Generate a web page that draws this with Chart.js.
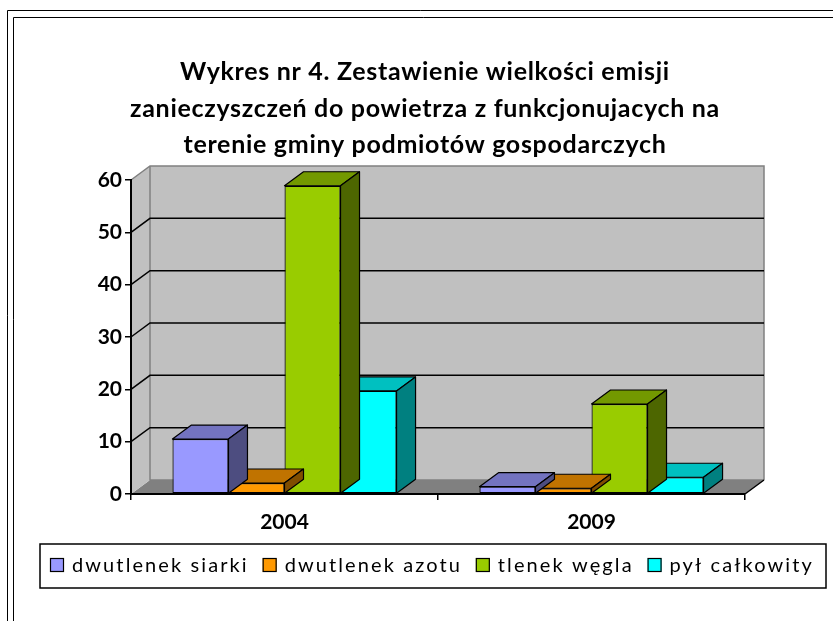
<!DOCTYPE html>
<html lang="pl">
<head>
<meta charset="UTF-8">
<script src="https://cdn.jsdelivr.net/npm/chart.js"></script>
<style>
  html, body { margin: 0; padding: 0; background: #fff; }
</style>
</head>
<body>
<canvas id="chart" width="833" height="621"></canvas>
<script>
    // values
    const categories = ['2004', '2009'];
    const seriesNames = ['dwutlenek siarki', 'dwutlenek azotu', 'tlenek węgla', 'pył całkowity'];
    const siarki = [10.5, 1.4];
    const azotu = [2.1, 1.1];
    const wegla = [58.9, 17.2];
    const pyl = [19.7, 3.2];
    const yTicks = [0, 10, 20, 30, 40, 50, 60];

    const seriesValues = [siarki, azotu, wegla, pyl];
    const frontColors = ['#9999ff', '#ff9900', '#99cc00', '#00ffff'];
    const topColors = ['#7373c0', '#c07300', '#739900', '#00c0c0'];
    const sideColors = ['#4d4d80', '#804d00', '#4d6600', '#008080'];

    const titleLines = [
        'Wykres nr 4. Zestawienie wielkości emisji',
        'zanieczyszczeń do powietrza z funkcjonujacych na',
        'terenie gminy podmiotów gospodarczych'
    ];

    // 3d offset of the back wall / bar depth
    const DX = 19, DY = -14;

    const framePlugin = {
        id: 'frame',
        beforeDraw(chart) {
            const ctx = chart.ctx;
            ctx.save();
            ctx.fillStyle = '#fff';
            ctx.fillRect(0, 0, chart.width, chart.height);
            ctx.strokeStyle = '#000';
            ctx.lineWidth = 1;
            ctx.beginPath();
            ctx.moveTo(7.5, chart.height); ctx.lineTo(7.5, 10.5); ctx.lineTo(chart.width, 10.5);
            ctx.moveTo(13.5, chart.height); ctx.lineTo(13.5, 17.5); ctx.lineTo(chart.width, 17.5);
            ctx.stroke();
            ctx.restore();
        }
    };

    const wallsPlugin = {
        id: 'walls',
        beforeDraw(chart) {
            const { ctx, chartArea: a, scales: { y } } = chart;
            const y0 = y.getPixelForValue(0);
            const yTop = y.getPixelForValue(yTicks[yTicks.length - 1]);
            ctx.save();
            // floor
            ctx.fillStyle = '#808080';
            ctx.beginPath();
            ctx.moveTo(a.left, y0); ctx.lineTo(a.left + DX, y0 + DY);
            ctx.lineTo(a.right + DX, y0 + DY); ctx.lineTo(a.right, y0);
            ctx.closePath(); ctx.fill();
            // back wall
            ctx.fillStyle = '#c0c0c0';
            ctx.fillRect(a.left + DX, yTop + DY, a.right - a.left, y0 - yTop);
            // side wall
            ctx.beginPath();
            ctx.moveTo(a.left, y0); ctx.lineTo(a.left, yTop);
            ctx.lineTo(a.left + DX, yTop + DY); ctx.lineTo(a.left + DX, y0 + DY);
            ctx.closePath(); ctx.fill();
            // wall edges
            ctx.strokeStyle = '#808080';
            ctx.lineWidth = 1.5;
            ctx.beginPath();
            ctx.moveTo(a.left, yTop); ctx.lineTo(a.left + DX, yTop + DY);
            ctx.lineTo(a.right + DX, yTop + DY); ctx.lineTo(a.right + DX, y0 + DY);
            ctx.moveTo(a.left + DX, yTop + DY); ctx.lineTo(a.left + DX, y0 + DY);
            ctx.lineTo(a.right + DX, y0 + DY);
            ctx.stroke();
            // grid lines
            ctx.strokeStyle = '#000';
            ctx.lineWidth = 1.5;
            ctx.beginPath();
            yTicks.forEach(v => {
                if (v === 0 || v === yTicks[yTicks.length - 1]) return;
                const py = y.getPixelForValue(v);
                ctx.moveTo(a.left, py);
                ctx.lineTo(a.left + DX, py + DY);
                ctx.lineTo(a.right + DX, py + DY);
            });
            // front right floor edge
            ctx.moveTo(a.right, y0); ctx.lineTo(a.right + DX, y0 + DY);
            ctx.stroke();
            ctx.restore();
        }
    };

    // top and side faces, drawn just before each dataset's front faces
    const barsPlugin = {
        id: 'bars3d',
        beforeDatasetDraw(chart, args) {
            const ctx = chart.ctx;
            const i = args.index;
            ctx.save();
            ctx.strokeStyle = '#000';
            ctx.lineWidth = 1.2;
            ctx.lineJoin = 'round';
            args.meta.data.forEach(bar => {
                const { x, y, base, width } = bar.getProps(['x', 'y', 'base', 'width'], true);
                const l = x - width / 2, r = x + width / 2;
                ctx.fillStyle = topColors[i];
                ctx.beginPath();
                ctx.moveTo(l, y); ctx.lineTo(l + DX, y + DY);
                ctx.lineTo(r + DX, y + DY); ctx.lineTo(r, y);
                ctx.closePath(); ctx.fill(); ctx.stroke();
                ctx.fillStyle = sideColors[i];
                ctx.beginPath();
                ctx.moveTo(r, y); ctx.lineTo(r + DX, y + DY);
                ctx.lineTo(r + DX, base + DY); ctx.lineTo(r, base);
                ctx.closePath(); ctx.fill(); ctx.stroke();
            });
            ctx.restore();
        }
    };

    // title drawn by hand so the letter spacing can match the original
    const titlePlugin = {
        id: 'titleText',
        afterDraw(chart) {
            const ctx = chart.ctx;
            ctx.save();
            ctx.font = 'bold 25px Lato';
            ctx.letterSpacing = '0.7px';
            ctx.textAlign = 'center';
            ctx.textBaseline = 'middle';
            ctx.fillStyle = '#000';
            titleLines.forEach((line, i) => {
                ctx.fillText(line, 425, 72 + i * 36.5);
            });
            ctx.restore();
        }
    };

    const legendPlugin = {
        id: 'legendBox',
        afterDraw(chart) {
            const ctx = chart.ctx;
            const boxL = 40, boxT = 544, boxW = 786, boxH = 44;
            const spacing = 2.1;
            ctx.save();
            ctx.strokeStyle = '#000';
            ctx.lineWidth = 1.5;
            ctx.strokeRect(boxL, boxT, boxW, boxH);
            ctx.font = '20px Lato';
            ctx.letterSpacing = spacing + 'px';
            ctx.textBaseline = 'middle';
            let x = boxL + 10;
            const cy = boxT + 21;
            chart.data.datasets.forEach(ds => {
                ctx.fillStyle = ds.backgroundColor;
                ctx.fillRect(x, cy - 7, 14, 14);
                ctx.lineWidth = 1.2;
                ctx.strokeRect(x + 0.5, cy - 6.5, 13, 13);
                x += 22;
                ctx.fillStyle = '#000';
                ctx.fillText(ds.label, x, cy + 1);
                x += ctx.measureText(ds.label).width - spacing + 16;
            });
            ctx.restore();
        }
    };

    new Chart(document.getElementById('chart'), {
        type: 'bar',
        data: {
            labels: categories,
            datasets: seriesNames.map((name, i) => ({
                label: name,
                data: seriesValues[i],
                backgroundColor: frontColors[i],
                borderColor: '#000',
                borderWidth: 1.2,
                borderSkipped: false,
                categoryPercentage: 0.73,
                barPercentage: 1,
                clip: false
            }))
        },
        options: {
            responsive: false,
            animation: false,
            layout: { padding: { left: 0, right: 88, top: 180, bottom: 0 } },
            plugins: {
                legend: { display: false },
                tooltip: { enabled: false },
                title: { display: false }
            },
            scales: {
                x: {
                    grid: { offset: true, drawOnChartArea: false, tickLength: 6, color: '#000', lineWidth: 1.5 },
                    border: { display: true, color: '#000', width: 2 },
                    ticks: { color: '#000', font: { family: 'Lato', size: 21, weight: 'bold' }, padding: 10 },
                    afterFit: s => { s.height = 127; }
                },
                y: {
                    min: 0,
                    max: 60,
                    afterBuildTicks: s => { s.ticks = yTicks.map(v => ({ value: v })); },
                    grid: { drawOnChartArea: false, tickLength: 6, color: '#000', lineWidth: 1.5 },
                    border: { display: true, color: '#000', width: 2 },
                    ticks: { color: '#000', font: { family: 'Lato', size: 21, weight: 'bold' }, padding: 3 },
                    afterFit: s => { s.width = 131; }
                }
            }
        },
        plugins: [framePlugin, wallsPlugin, barsPlugin, titlePlugin, legendPlugin]
    });
</script>
</body>
</html>
